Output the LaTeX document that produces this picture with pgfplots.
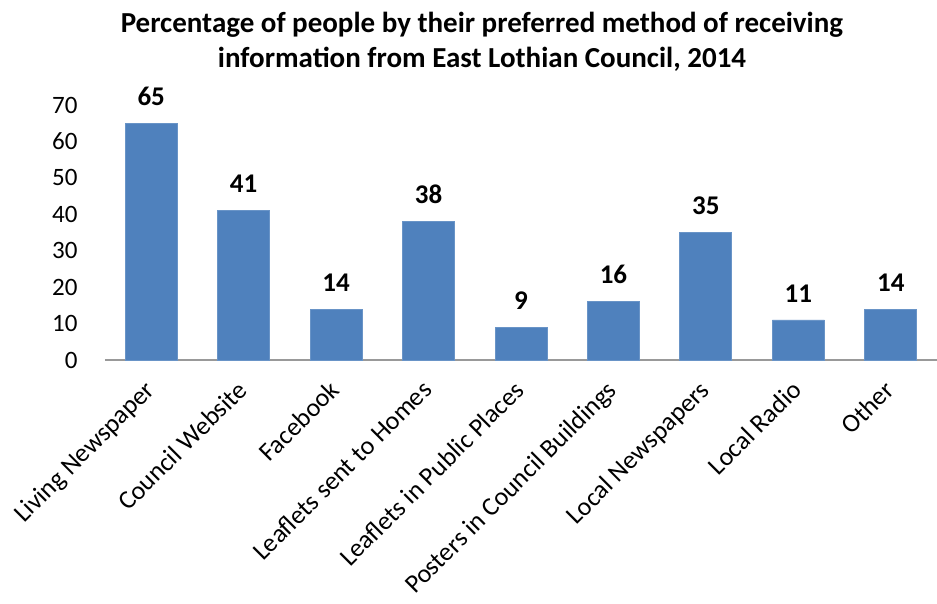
\documentclass[border=0pt]{standalone}
\usepackage{pgfplots}
\pgfplotsset{compat=1.18}
\usepackage{fontspec}
\setmainfont{Carlito}
\definecolor{barblue}{HTML}{4F81BD}
\begin{document}
\begin{tikzpicture}
\path[use as bounding box] (-105pt,-243pt) rectangle (832pt,360pt);
\begin{axis}[
  at={(0pt,0pt)}, anchor=south west,
  scale only axis,
  width=832pt, height=255pt,
  xmin=-0.5, xmax=8.5,
  ymin=0, ymax=70,
  ytick={0,10,...,70},
  xtick=data,
  xticklabels={Living Newspaper,Council Website,Facebook,Leaflets sent to Homes,Leaflets in Public Places,Posters in Council Buildings,Local Newspapers,Local Radio,Other},
  x tick label style={xshift=-8pt, yshift=-16pt, rotate=45, anchor=north east, font=\fontsize{26}{30}\selectfont, inner sep=2pt},
  y tick label style={font=\fontsize{25}{30}\selectfont, xshift=-24pt},
  /pgf/number format/assume math mode=true,
  axis y line*=left,
  axis x line*=bottom,
  y axis line style={draw=none},
  x axis line style={draw=gray!80, line width=1.2pt, -},
  major tick length=0pt,
  ybar, bar width=52pt,
  nodes near coords,
  nodes near coords style={font=\bfseries\fontsize{27}{30}\selectfont, yshift=14pt},
  title style={font=\bfseries\fontsize{29}{35}\selectfont, align=center, yshift=24pt, xshift=-39pt},
  title={Percentage of people by their preferred method of receiving\\information from East Lothian Council, 2014},
]
\addplot[fill=barblue, draw=barblue!85!white, line width=0.8pt] coordinates {(0,65) (1,41) (2,14) (3,38) (4,9) (5,16) (6,35) (7,11) (8,14)};
\end{axis}
\end{tikzpicture}
\end{document}
